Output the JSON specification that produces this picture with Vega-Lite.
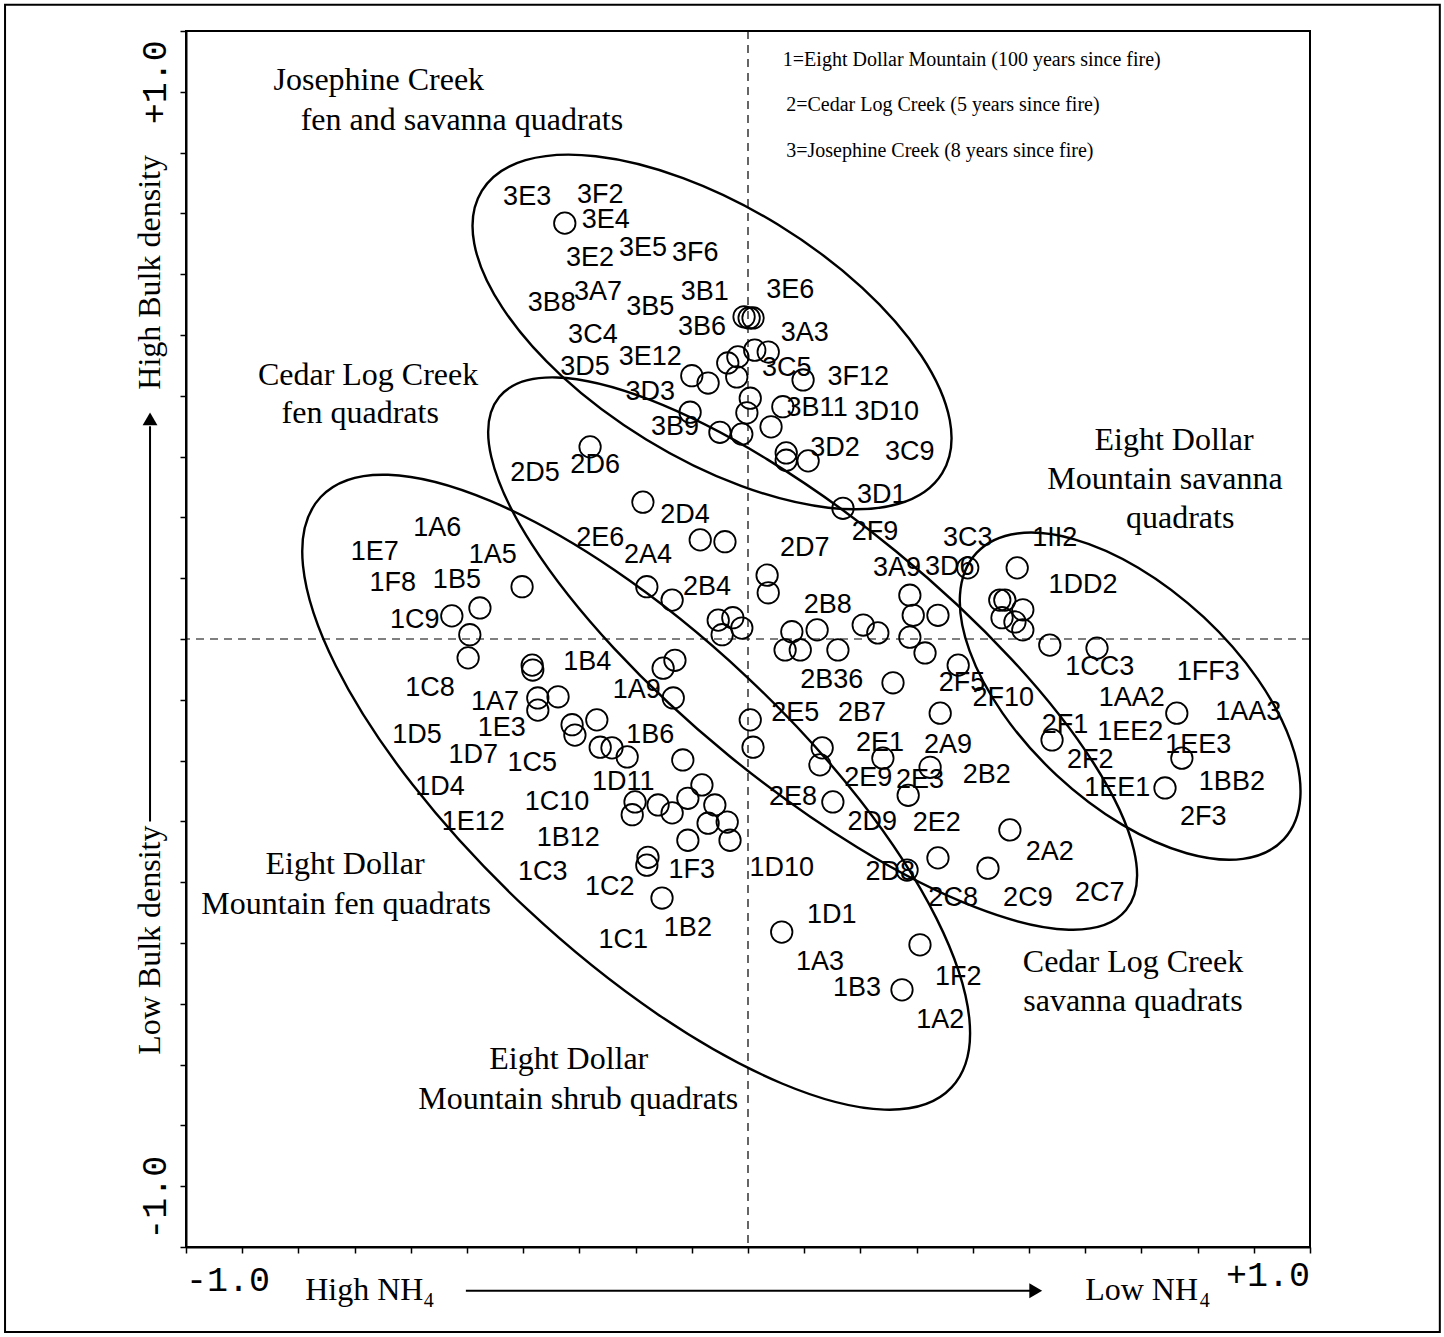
{
  "$schema": "https://vega.github.io/schema/vega-lite/v6.json",
  "autosize": "none",
  "width": 1124,
  "height": 1216,
  "padding": {"left": 186, "top": 31, "right": 134, "bottom": 90},
  "background": "white",
  "data": {"values": [{}]},
  "config": {
    "view": {"stroke": "black", "strokeWidth": 2},
    "axis": {"title": null, "labels": false, "grid": false, "tickCount": 20, "tickSize": 6, "tickWidth": 1.5, "tickColor": "black", "domainColor": "black", "domainWidth": 2}
  },
  "datasets": {
    "points": [
      {"x":-0.326,"y":0.684},{"x":-0.007,"y":0.530},{"x":0.002,"y":0.528},{"x":0.009,"y":0.528},{"x":0.012,"y":0.475},{"x":0.036,"y":0.472},{"x":-0.018,"y":0.464},{"x":-0.036,"y":0.454},{"x":-0.020,"y":0.431},{"x":-0.100,"y":0.433},{"x":-0.071,"y":0.421},{"x":0.004,"y":0.396},{"x":-0.002,"y":0.372},{"x":-0.050,"y":0.340},{"x":-0.011,"y":0.337},{"x":0.041,"y":0.349},{"x":0.062,"y":0.382},{"x":0.098,"y":0.426},{"x":0.068,"y":0.306},{"x":0.068,"y":0.294},{"x":0.107,"y":0.293},{"x":-0.103,"y":0.373},{"x":0.169,"y":0.215},
      {"x":-0.187,"y":0.225},{"x":-0.085,"y":0.163},{"x":-0.041,"y":0.160},{"x":-0.180,"y":0.086},{"x":-0.135,"y":0.064},{"x":-0.281,"y":0.316},{"x":-0.053,"y":0.031},{"x":-0.027,"y":0.035},{"x":-0.011,"y":0.018},{"x":-0.046,"y":0.007},{"x":0.034,"y":0.105},{"x":0.036,"y":0.076},{"x":0.078,"y":0.012},{"x":0.066,"y":-0.018},{"x":0.093,"y":-0.018},{"x":0.123,"y":0.015},{"x":0.160,"y":-0.018},{"x":0.205,"y":0.023},{"x":0.231,"y":0.010},{"x":0.288,"y":0.072},{"x":0.294,"y":0.039},{"x":0.288,"y":0.003},{"x":0.315,"y":-0.023},{"x":0.338,"y":0.039},{"x":0.258,"y":-0.072},{"x":0.374,"y":-0.043},{"x":0.391,"y":0.117},
      {"x":0.479,"y":0.117},{"x":0.448,"y":0.064},{"x":0.457,"y":0.064},{"x":0.489,"y":0.048},{"x":0.452,"y":0.035},{"x":0.475,"y":0.028},{"x":0.489,"y":0.015},{"x":0.537,"y":-0.010},{"x":0.621,"y":-0.015},{"x":0.763,"y":-0.122},{"x":0.772,"y":-0.196},{"x":0.742,"y":-0.245},{"x":0.541,"y":-0.166},
      {"x":-0.402,"y":0.086},{"x":-0.477,"y":0.051},{"x":-0.527,"y":0.038},{"x":-0.495,"y":0.007},{"x":-0.498,"y":-0.031},{"x":-0.384,"y":-0.043},{"x":-0.383,"y":-0.051},{"x":-0.374,"y":-0.097},{"x":-0.338,"y":-0.095},{"x":-0.374,"y":-0.117},{"x":-0.130,"y":-0.035},{"x":-0.151,"y":-0.048},{"x":-0.133,"y":-0.097},{"x":-0.313,"y":-0.141},{"x":-0.308,"y":-0.158},{"x":-0.269,"y":-0.133},{"x":-0.263,"y":-0.178},{"x":-0.242,"y":-0.179},{"x":-0.215,"y":-0.194},{"x":-0.116,"y":-0.199},{"x":-0.082,"y":-0.240},{"x":-0.107,"y":-0.262},{"x":-0.059,"y":-0.273},{"x":-0.135,"y":-0.286},{"x":-0.160,"y":-0.273},{"x":-0.206,"y":-0.289},{"x":-0.071,"y":-0.303},{"x":-0.037,"y":-0.301},{"x":-0.107,"y":-0.331},{"x":-0.032,"y":-0.331},{"x":-0.178,"y":-0.359},{"x":-0.180,"y":-0.372},{"x":-0.153,"y":-0.426},{"x":-0.201,"y":-0.268},{"x":0.004,"y":-0.133},{"x":0.009,"y":-0.178},
      {"x":0.132,"y":-0.179},{"x":0.128,"y":-0.207},{"x":0.151,"y":-0.268},{"x":0.342,"y":-0.122},{"x":0.240,"y":-0.196},{"x":0.285,"y":-0.257},{"x":0.324,"y":-0.211},{"x":0.466,"y":-0.314},{"x":0.338,"y":-0.360},{"x":0.427,"y":-0.377},{"x":0.283,"y":-0.380},
      {"x":0.060,"y":-0.482},{"x":0.306,"y":-0.503},{"x":0.274,"y":-0.577}
    ],
    "labels": [
      {"x":-0.393,"y":0.727,"label":"3E3"},{"x":-0.263,"y":0.730,"label":"3F2"},{"x":-0.253,"y":0.689,"label":"3E4"},{"x":-0.281,"y":0.627,"label":"3E2"},{"x":-0.187,"y":0.643,"label":"3E5"},{"x":-0.094,"y":0.635,"label":"3F6"},{"x":-0.349,"y":0.553,"label":"3B8"},{"x":-0.267,"y":0.571,"label":"3A7"},{"x":-0.174,"y":0.546,"label":"3B5"},{"x":-0.077,"y":0.571,"label":"3B1"},{"x":-0.082,"y":0.513,"label":"3B6"},{"x":0.075,"y":0.574,"label":"3E6"},{"x":0.101,"y":0.503,"label":"3A3"},{"x":-0.276,"y":0.500,"label":"3C4"},{"x":-0.174,"y":0.464,"label":"3E12"},{"x":-0.290,"y":0.447,"label":"3D5"},{"x":0.069,"y":0.446,"label":"3C5"},{"x":0.196,"y":0.431,"label":"3F12"},{"x":-0.174,"y":0.406,"label":"3D3"},{"x":0.123,"y":0.380,"label":"3B11"},{"x":0.247,"y":0.373,"label":"3D10"},{"x":-0.130,"y":0.349,"label":"3B9"},{"x":0.155,"y":0.314,"label":"3D2"},{"x":0.288,"y":0.308,"label":"3C9"},{"x":0.238,"y":0.237,"label":"3D1"},
      {"x":-0.379,"y":0.273,"label":"2D5"},{"x":-0.272,"y":0.286,"label":"2D6"},{"x":-0.112,"y":0.204,"label":"2D4"},{"x":-0.263,"y":0.166,"label":"2E6"},{"x":-0.178,"y":0.138,"label":"2A4"},{"x":-0.073,"y":0.086,"label":"2B4"},{"x":0.226,"y":0.176,"label":"2F9"},{"x":0.101,"y":0.150,"label":"2D7"},{"x":0.391,"y":0.166,"label":"3C3"},{"x":0.265,"y":0.117,"label":"3A9"},{"x":0.359,"y":0.118,"label":"3D6"},{"x":0.142,"y":0.056,"label":"2B8"},{"x":0.149,"y":-0.067,"label":"2B36"},{"x":0.381,"y":-0.072,"label":"2F5"},{"x":0.454,"y":-0.097,"label":"2F10"},{"x":0.084,"y":-0.122,"label":"2E5"},{"x":0.203,"y":-0.122,"label":"2B7"},{"x":0.235,"y":-0.171,"label":"2E1"},{"x":0.356,"y":-0.174,"label":"2A9"},{"x":0.214,"y":-0.229,"label":"2E9"},{"x":0.306,"y":-0.232,"label":"2E3"},{"x":0.425,"y":-0.224,"label":"2B2"},{"x":0.080,"y":-0.260,"label":"2E8"},{"x":0.221,"y":-0.301,"label":"2D9"},{"x":0.336,"y":-0.303,"label":"2E2"},{"x":0.537,"y":-0.350,"label":"2A2"},{"x":0.253,"y":-0.383,"label":"2D8"},{"x":0.365,"y":-0.426,"label":"2C8"},{"x":0.498,"y":-0.426,"label":"2C9"},{"x":0.626,"y":-0.418,"label":"2C7"},
      {"x":0.546,"y":0.166,"label":"1II2"},{"x":0.596,"y":0.089,"label":"1DD2"},{"x":0.626,"y":-0.046,"label":"1CC3"},{"x":0.819,"y":-0.054,"label":"1FF3"},{"x":0.683,"y":-0.097,"label":"1AA2"},{"x":0.890,"y":-0.120,"label":"1AA3"},{"x":0.564,"y":-0.141,"label":"2F1"},{"x":0.680,"y":-0.153,"label":"1EE2"},{"x":0.801,"y":-0.174,"label":"1EE3"},{"x":0.609,"y":-0.199,"label":"2F2"},{"x":0.657,"y":-0.245,"label":"1EE1"},{"x":0.861,"y":-0.235,"label":"1BB2"},{"x":0.810,"y":-0.293,"label":"2F3"},
      {"x":-0.553,"y":0.183,"label":"1A6"},{"x":-0.664,"y":0.143,"label":"1E7"},{"x":-0.454,"y":0.138,"label":"1A5"},{"x":-0.632,"y":0.092,"label":"1F8"},{"x":-0.518,"y":0.097,"label":"1B5"},{"x":-0.593,"y":0.031,"label":"1C9"},{"x":-0.566,"y":-0.081,"label":"1C8"},{"x":-0.450,"y":-0.104,"label":"1A7"},{"x":-0.286,"y":-0.038,"label":"1B4"},{"x":-0.198,"y":-0.084,"label":"1A9"},{"x":-0.438,"y":-0.146,"label":"1E3"},{"x":-0.589,"y":-0.158,"label":"1D5"},{"x":-0.489,"y":-0.191,"label":"1D7"},{"x":-0.384,"y":-0.204,"label":"1C5"},{"x":-0.174,"y":-0.158,"label":"1B6"},{"x":-0.548,"y":-0.243,"label":"1D4"},{"x":-0.222,"y":-0.235,"label":"1D11"},{"x":-0.340,"y":-0.268,"label":"1C10"},{"x":-0.489,"y":-0.301,"label":"1E12"},{"x":-0.320,"y":-0.327,"label":"1B12"},{"x":-0.365,"y":-0.383,"label":"1C3"},{"x":-0.246,"y":-0.408,"label":"1C2"},{"x":-0.100,"y":-0.380,"label":"1F3"},{"x":-0.107,"y":-0.475,"label":"1B2"},{"x":-0.222,"y":-0.495,"label":"1C1"},{"x":0.060,"y":-0.377,"label":"1D10"},{"x":0.149,"y":-0.454,"label":"1D1"},{"x":0.128,"y":-0.531,"label":"1A3"},{"x":0.194,"y":-0.574,"label":"1B3"},{"x":0.374,"y":-0.556,"label":"1F2"},{"x":0.342,"y":-0.627,"label":"1A2"}
    ],
    "notes": [
      {"x":-0.657,"y":0.919,"text":"Josephine Creek"},
      {"x":-0.509,"y":0.854,"text":"fen and savanna quadrats"},
      {"x":-0.676,"y":0.434,"text":"Cedar Log Creek"},
      {"x":-0.690,"y":0.372,"text":"fen quadrats"},
      {"x":0.758,"y":0.327,"text":"Eight Dollar"},
      {"x":0.742,"y":0.263,"text":"Mountain savanna"},
      {"x":0.769,"y":0.199,"text":"quadrats"},
      {"x":-0.717,"y":-0.370,"text":"Eight Dollar"},
      {"x":-0.715,"y":-0.436,"text":"Mountain fen quadrats"},
      {"x":-0.319,"y":-0.691,"text":"Eight Dollar"},
      {"x":-0.302,"y":-0.757,"text":"Mountain shrub quadrats"},
      {"x":0.685,"y":-0.531,"text":"Cedar Log Creek"},
      {"x":0.685,"y":-0.595,"text":"savanna quadrats"}
    ],
    "legend": [
      {"x":0.062,"y":0.952,"text":"1=Eight Dollar Mountain (100 years since fire)"},
      {"x":0.068,"y":0.878,"text":"2=Cedar Log Creek (5 years since fire)"},
      {"x":0.068,"y":0.803,"text":"3=Josephine Creek (8 years since fire)"}
    ],
    "ellipses": [
      {"x":-0.064,"y":0.505,"name":"J"},
      {"x":0.115,"y":-0.024,"name":"C"},
      {"x":-0.199,"y":-0.252,"name":"S"},
      {"x":0.680,"y":-0.094,"name":"V"}
    ]
  },
  "layer": [
    {
      "data": {"name": "points"},
      "mark": {"type": "point", "shape": "circle", "filled": false, "stroke": "black", "strokeWidth": 1.8, "opacity": 1, "size": 460},
      "encoding": {
        "x": {"field": "x", "type": "quantitative", "scale": {"domain": [-1, 1], "nice": false, "zero": false}},
        "y": {"field": "y", "type": "quantitative", "scale": {"domain": [-1, 1], "nice": false, "zero": false}}
      }
    },
    {
      "mark": {"type": "rect", "fill": null, "filled": false, "stroke": "black", "strokeWidth": 2},
      "encoding": {
        "x": {"datum": -1.322, "type": "quantitative"},
        "x2": {"datum": 1.231},
        "y": {"datum": 1.043, "type": "quantitative"},
        "y2": {"datum": -1.140}
      }
    },
    {
      "mark": {"type": "rule", "strokeDash": [8, 6], "stroke": "black", "strokeWidth": 1.2},
      "encoding": {"x": {"datum": 0, "type": "quantitative"}}
    },
    {
      "mark": {"type": "rule", "strokeDash": [8, 6], "stroke": "black", "strokeWidth": 1.2},
      "encoding": {"y": {"datum": 0, "type": "quantitative"}}
    },
    {
      "data": {"name": "ellipses"},
      "transform": [{"filter": "datum.name === 'J'"}],
      "mark": {"type": "point", "filled": false, "stroke": "black", "strokeWidth": 2.4, "opacity": 1,
               "shape": "M -1 0 C -1 -0.2577 -0.5523 -0.4667 0 -0.4667 C 0.5523 -0.4667 1 -0.2577 1 0 C 1 0.2577 0.5523 0.4667 0 0.4667 C -0.5523 0.4667 -1 0.2577 -1 0 Z",
               "size": 291600, "angle": 31.5},
      "encoding": {"x": {"field": "x", "type": "quantitative"}, "y": {"field": "y", "type": "quantitative"}}
    },
    {
      "data": {"name": "ellipses"},
      "transform": [{"filter": "datum.name === 'C'"}],
      "mark": {"type": "point", "filled": false, "stroke": "black", "strokeWidth": 2.4, "opacity": 1,
               "shape": "M -1 0 C -1 -0.18 -0.5523 -0.3259 0 -0.3259 C 0.5523 -0.3259 1 -0.18 1 0 C 1 0.18 0.5523 0.3259 0 0.3259 C -0.5523 0.3259 -1 0.18 -1 0 Z",
               "size": 656100, "angle": 39.3},
      "encoding": {"x": {"field": "x", "type": "quantitative"}, "y": {"field": "y", "type": "quantitative"}}
    },
    {
      "data": {"name": "ellipses"},
      "transform": [{"filter": "datum.name === 'S'"}],
      "mark": {"type": "point", "filled": false, "stroke": "black", "strokeWidth": 2.4, "opacity": 1,
               "shape": "M -1 0 C -1 -0.2045 -0.5523 -0.37 0 -0.37 C 0.5523 -0.37 1 -0.2045 1 0 C 1 0.2045 0.5523 0.37 0 0.37 C -0.5523 0.37 -1 0.2045 -1 0 Z",
               "size": 746496, "angle": 43.1},
      "encoding": {"x": {"field": "x", "type": "quantitative"}, "y": {"field": "y", "type": "quantitative"}}
    },
    {
      "data": {"name": "ellipses"},
      "transform": [{"filter": "datum.name === 'V'"}],
      "mark": {"type": "point", "filled": false, "stroke": "black", "strokeWidth": 2.4, "opacity": 1,
               "shape": "M -1 0 C -1 -0.2840 -0.5523 -0.514 0 -0.514 C 0.5523 -0.514 1 -0.2840 1 0 C 1 0.2840 0.5523 0.514 0 0.514 C -0.5523 0.514 -1 0.2840 -1 0 Z",
               "size": 176400, "angle": 43},
      "encoding": {"x": {"field": "x", "type": "quantitative"}, "y": {"field": "y", "type": "quantitative"}}
    },
    {
      "data": {"name": "labels"},
      "mark": {"type": "text", "font": "Liberation Sans", "fontSize": 27, "fill": "black", "align": "center", "baseline": "middle"},
      "encoding": {"x": {"field": "x", "type": "quantitative"}, "y": {"field": "y", "type": "quantitative"}, "text": {"field": "label"}}
    },
    {
      "data": {"name": "notes"},
      "mark": {"type": "text", "font": "Liberation Serif", "fontSize": 32, "fill": "black", "align": "center", "baseline": "middle"},
      "encoding": {"x": {"field": "x", "type": "quantitative"}, "y": {"field": "y", "type": "quantitative"}, "text": {"field": "text"}}
    },
    {
      "data": {"name": "legend"},
      "mark": {"type": "text", "font": "Liberation Serif", "fontSize": 20, "fill": "black", "align": "left", "baseline": "middle"},
      "encoding": {"x": {"field": "x", "type": "quantitative"}, "y": {"field": "y", "type": "quantitative"}, "text": {"field": "text"}}
    },
    {
      "mark": {"type": "text", "text": "-1.0", "font": "Liberation Mono", "fontSize": 35, "align": "left", "baseline": "middle", "fill": "black"},
      "encoding": {"x": {"datum": -1.0, "type": "quantitative"}, "y": {"datum": -1.054, "type": "quantitative"}}
    },
    {
      "mark": {"type": "text", "text": "+1.0", "font": "Liberation Mono", "fontSize": 35, "align": "right", "baseline": "middle", "fill": "black"},
      "encoding": {"x": {"datum": 1.0, "type": "quantitative"}, "y": {"datum": -1.046, "type": "quantitative"}}
    },
    {
      "mark": {"type": "text", "text": "+1.0", "font": "Liberation Mono", "fontSize": 35, "align": "right", "baseline": "middle", "angle": 270, "fill": "black"},
      "encoding": {"x": {"datum": -1.055, "type": "quantitative"}, "y": {"datum": 0.985, "type": "quantitative"}}
    },
    {
      "mark": {"type": "text", "text": "-1.0", "font": "Liberation Mono", "fontSize": 35, "align": "left", "baseline": "middle", "angle": 270, "fill": "black"},
      "encoding": {"x": {"datum": -1.055, "type": "quantitative"}, "y": {"datum": -0.988, "type": "quantitative"}}
    },
    {
      "mark": {"type": "text", "text": "High NH", "font": "Liberation Serif", "fontSize": 32, "align": "left", "baseline": "middle", "fill": "black"},
      "encoding": {"x": {"datum": -0.788, "type": "quantitative"}, "y": {"datum": -1.071, "type": "quantitative"}}
    },
    {
      "mark": {"type": "text", "text": "4", "font": "Liberation Serif", "fontSize": 20, "align": "left", "baseline": "middle", "fill": "black"},
      "encoding": {"x": {"datum": -0.577, "type": "quantitative"}, "y": {"datum": -1.089, "type": "quantitative"}}
    },
    {
      "mark": {"type": "text", "text": "Low NH", "font": "Liberation Serif", "fontSize": 32, "align": "left", "baseline": "middle", "fill": "black"},
      "encoding": {"x": {"datum": 0.600, "type": "quantitative"}, "y": {"datum": -1.071, "type": "quantitative"}}
    },
    {
      "mark": {"type": "text", "text": "4", "font": "Liberation Serif", "fontSize": 20, "align": "left", "baseline": "middle", "fill": "black"},
      "encoding": {"x": {"datum": 0.804, "type": "quantitative"}, "y": {"datum": -1.089, "type": "quantitative"}}
    },
    {
      "mark": {"type": "rule", "stroke": "black", "strokeWidth": 2},
      "encoding": {"x": {"datum": -0.502, "type": "quantitative"}, "x2": {"datum": 0.505}, "y": {"datum": -1.072, "type": "quantitative"}}
    },
    {
      "mark": {"type": "point", "shape": "triangle-right", "filled": true, "fill": "black", "stroke": null, "opacity": 1, "size": 220},
      "encoding": {"x": {"datum": 0.512, "type": "quantitative"}, "y": {"datum": -1.072, "type": "quantitative"}}
    },
    {
      "mark": {"type": "text", "text": "Low Bulk density", "font": "Liberation Serif", "fontSize": 32, "align": "left", "baseline": "middle", "angle": 270, "fill": "black"},
      "encoding": {"x": {"datum": -1.064, "type": "quantitative"}, "y": {"datum": -0.684, "type": "quantitative"}}
    },
    {
      "mark": {"type": "rule", "stroke": "black", "strokeWidth": 2},
      "encoding": {"x": {"datum": -1.064, "type": "quantitative"}, "y": {"datum": -0.300, "type": "quantitative"}, "y2": {"datum": 0.350}}
    },
    {
      "mark": {"type": "point", "shape": "triangle-up", "filled": true, "fill": "black", "stroke": null, "opacity": 1, "size": 220},
      "encoding": {"x": {"datum": -1.064, "type": "quantitative"}, "y": {"datum": 0.362, "type": "quantitative"}}
    },
    {
      "mark": {"type": "text", "text": "High Bulk density", "font": "Liberation Serif", "fontSize": 32, "align": "left", "baseline": "middle", "angle": 270, "fill": "black"},
      "encoding": {"x": {"datum": -1.064, "type": "quantitative"}, "y": {"datum": 0.410, "type": "quantitative"}}
    }
  ]
}
